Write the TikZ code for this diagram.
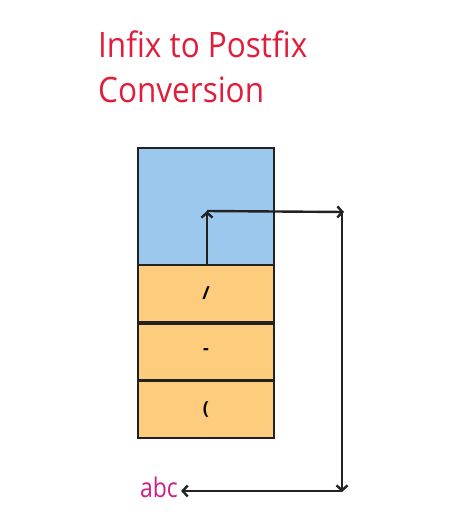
\documentclass[tikz,border=0pt]{standalone}
\usepackage{fontspec}
\setmainfont{Open Sans}
\usetikzlibrary{arrows.meta}
\definecolor{titlered}{HTML}{E11D3C}
\definecolor{abcpink}{HTML}{CC1F86}
\definecolor{stackblue}{HTML}{9DC8EE}
\definecolor{stackorange}{HTML}{FDCC7C}
\definecolor{edge}{HTML}{222222}
\tikzset{
  cell/.style={draw=edge, line width=2.4pt, minimum width=136pt, inner sep=0pt, font=\bfseries\fontsize{18}{20}\selectfont},
  bluecell/.style={cell, fill=stackblue, minimum height=117pt},
  orangecell/.style={cell, fill=stackorange, minimum height=57pt},
  arr/.style={draw=edge, line width=2.4pt, -{Straight Barb[length=5pt,width=11pt,line width=2.4pt]}},
  titletext/.style={text=titlered, anchor=base west, inner sep=0pt, font=\fontsize{35}{40}\selectfont},
}
\begin{document}
\begin{tikzpicture}[x=1pt,y=-1pt]
\useasboundingbox (0,0) rectangle (474,529);
\node[titletext] (t1) at (98,58) {\scalebox{0.9}[1]{Infix to Postfix}};
\node[titletext] (t2) at (98,103) {\scalebox{0.9}[1]{Conversion}};
\node[bluecell] (top) at (206,206.5) {};
\node[orangecell] (s1) at (206,293.5) {/};
\node[orangecell] (s2) at (206,352) {-};
\node[orangecell] (s3) at (206,409.5) {(};
\node[text=abcpink, font=\fontsize{27}{30}\selectfont, inner sep=1pt] (abc) at (159,487) {\scalebox{0.85}[1]{abc}};
\coordinate (p1) at (207,211);
\coordinate (p2) at (344,212);
\coordinate (p2b) at (342,212);
\coordinate (p3) at (342,492);
\coordinate (p3b) at (342,491);
\draw[arr] (s1.north -| p1) -- (p1);
\draw[arr] (p1) -- (p2);
\draw[arr] (p2b) -- (p3);
\draw[arr, shorten >=2pt] (p3b) -- (abc.east |- p3b);
\end{tikzpicture}
\end{document}
